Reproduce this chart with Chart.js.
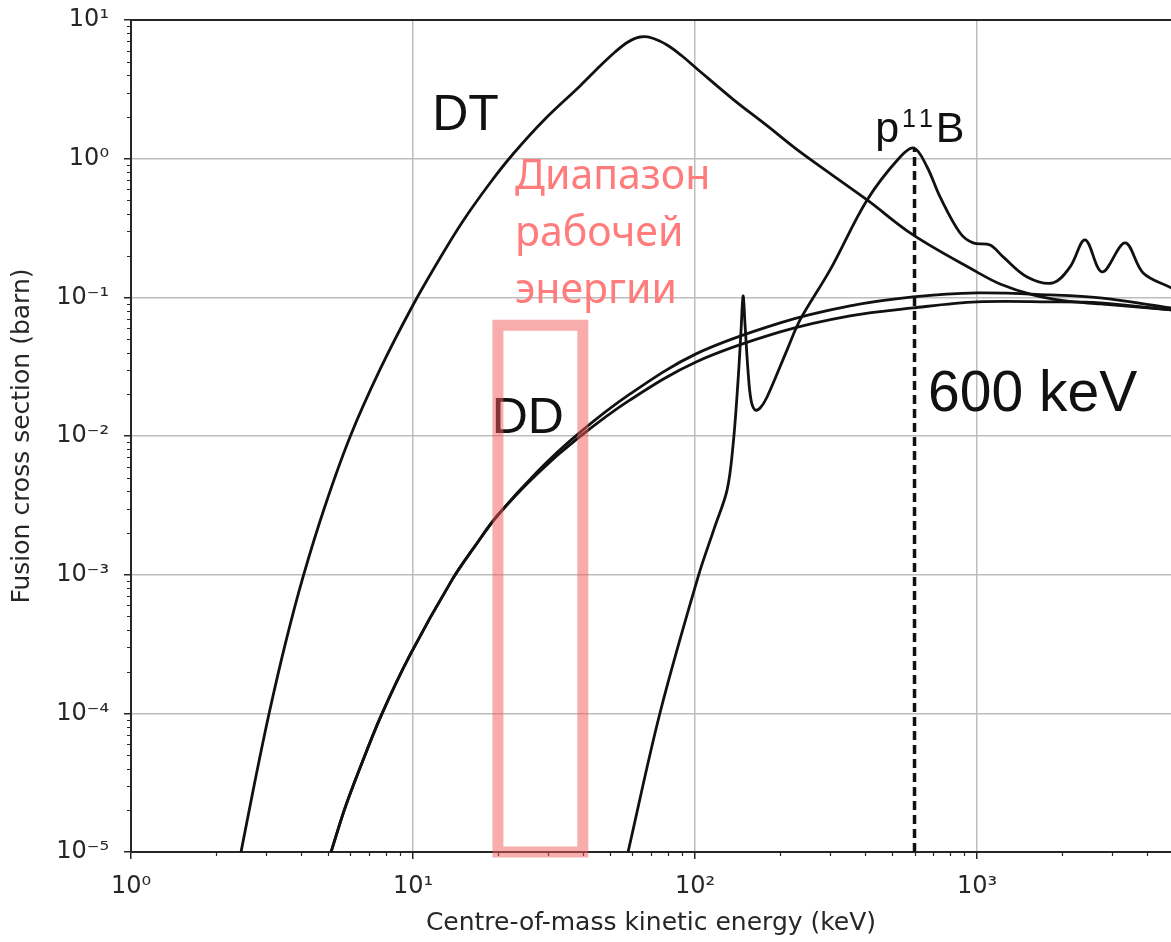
<!DOCTYPE html>
<html>
<head>
<meta charset="utf-8">
<script src="https://cdn.jsdelivr.net/npm/chart.js@4.4.1/dist/chart.umd.min.js"></script>
<style>
html, body { margin: 0; padding: 0; background: #fff; }
#wrap { width: 1171px; height: 942px; }
</style>
</head>
<body>
<div id="wrap"><canvas id="fusion" width="1171" height="942"></canvas></div>
<script>
// energies in keV, cross sections in barn
var dtEnergy = [2.455, 2.753, 3.086, 3.517, 4.074, 4.875, 5.978, 7.638, 10.0, 12.47, 15.04, 18.75, 22.63, 29.38, 39.1, 46.04, 52.04, 57.86, 63.83, 70.39, 79.58, 89.94, 100.8, 136.4, 178.6, 235.7, 407.4, 592.9, 1000, 1206, 1579, 2052, 2731, 4875];
var dtSigma  = [1e-5, 3.26e-5, 9.92e-5, 3.12e-4, 9.64e-4, 3.13e-3, 9.85e-3, 0.0302, 0.0881, 0.1923, 0.3555, 0.668, 1.081, 1.933, 3.344, 4.66, 5.88, 6.94, 7.54, 7.42, 6.6, 5.5, 4.51, 2.68, 1.75, 1.118, 0.504, 0.282, 0.152, 0.1249, 0.1041, 0.0942, 0.0897, 0.0811];

var ddEnergy  = [5.12, 5.74, 6.49, 7.7, 9.76, 13.75, 16.59, 19.86, 27.53, 38.15, 58.84, 100.8, 200.3, 354.4, 593, 1000, 1815, 2731, 4875];
var ddTpSigma = [1e-5, 2.08e-5, 4.05e-5, 9.59e-5, 2.64e-4, 9.17e-4, 1.61e-3, 2.65e-3, 5.51e-3, 0.0102, 0.0201, 0.0391, 0.0654, 0.0867, 0.1007, 0.1076, 0.1041, 0.099, 0.0839];
var ddHnSigma = [1e-5, 2.08e-5, 4.05e-5, 9.59e-5, 2.64e-4, 9.17e-4, 1.61e-3, 2.65e-3, 5.33e-3, 9.53e-3, 0.0182, 0.0342, 0.0563, 0.0735, 0.0839, 0.0927, 0.0927, 0.0911, 0.0811];

var pbEnergy = [57.86, 75.13, 102.5, 116.8, 129.9, 136.4, 142.1, 145.6, 148, 150.4, 154.2, 157.9, 163.2, 170.1, 180, 212, 235.7, 301.1, 407.4, 533.3, 597.9, 664.8, 739.2, 870.4, 967.8, 1112, 1237, 1504, 1860, 2137, 2416, 2775, 3348, 3879, 4875];
var pbSigma  = [1e-5, 1.01e-4, 9.64e-4, 2.14e-3, 4.09e-3, 8.63e-3, 0.0254, 0.0582, 0.1023, 0.0632, 0.029, 0.0182, 0.0154, 0.0159, 0.0191, 0.0418, 0.0687, 0.1576, 0.504, 1.029, 1.194, 0.871, 0.53, 0.291, 0.247, 0.2385, 0.1956, 0.1403, 0.127, 0.1657, 0.2594, 0.1524, 0.2467, 0.1499, 0.1169];

var markEnergy = 600;          // dotted line
var markTop = 1.19;
var rangeEnergy = [20, 40];    // working range box
var rangeTop = 0.063;

var xMin = 1, xMax = 4870, yMin = 1e-5, yMax = 10;
var xTickValues = [1, 10, 100, 1000];
var xTickLabels = ['10⁰', '10¹', '10²', '10³'];
var yTickValues = [1e-5, 1e-4, 1e-3, 1e-2, 1e-1, 1, 10];
var yTickLabels = ['10⁻⁵', '10⁻⁴', '10⁻³', '10⁻²', '10⁻¹', '10⁰', '10¹'];

var noteText   = ['DT', 'DD', '600 keV'];
var noteEnergy = [11.7, 19.0, 670];
var noteSigma  = [1.61, 0.0105, 0.0152];
var rangeText = ['Диапазон', 'рабочей', 'энергии'];

function pts(xs, ys) {
	return xs.map(function (v, i) { return {x: v, y: ys[i]}; });
}

var ink = '#262626';

var notes = {
	id: 'notes',
	beforeDatasetsDraw: function (chart) {
		var ctx = chart.ctx, xs = chart.scales.x, ys = chart.scales.y, a = chart.chartArea;
		ctx.save();
		// minor ticks
		ctx.strokeStyle = ink;
		ctx.lineWidth = 1.2;
		ctx.beginPath();
		xTickValues.forEach(function (d) {
			for (var m = 2; m < 10; m++) {
				if (m * d > xMax) return;
				var px = Math.round(xs.getPixelForValue(m * d)) + 0.5;
				ctx.moveTo(px, a.bottom); ctx.lineTo(px, a.bottom + 4);
			}
		});
		yTickValues.forEach(function (d) {
			for (var m = 2; m < 10; m++) {
				if (m * d > yMax) return;
				var py = Math.round(ys.getPixelForValue(m * d)) + 0.5;
				ctx.moveTo(a.left, py); ctx.lineTo(a.left - 4, py);
			}
		});
		ctx.stroke();

		// curve labels
		ctx.fillStyle = '#111';
		ctx.textAlign = 'left';
		ctx.textBaseline = 'alphabetic';
		var sizes = [50, 50, 57];
		noteText.forEach(function (t, i) {
			ctx.font = sizes[i] + 'px "Liberation Sans"';
			ctx.fillText(t, xs.getPixelForValue(noteEnergy[i]), ys.getPixelForValue(noteSigma[i]));
		});
		// p11B with raised mass number
		var px = xs.getPixelForValue(435), py = ys.getPixelForValue(1.32);
		ctx.font = '43px "Liberation Sans"';
		ctx.fillText('p', px, py);
		px += ctx.measureText('p').width + 3;
		ctx.font = '25px "Liberation Sans"';
		ctx.fillText('1', px, py - 15);
		px += ctx.measureText('1').width + 3;
		ctx.fillText('1', px, py - 15);
		px += ctx.measureText('1').width + 3;
		ctx.font = '43px "Liberation Sans"';
		ctx.fillText('B', px, py);

		// working range caption
		ctx.fillStyle = '#ff7c7c';
		ctx.font = '41px "Noto Sans"';
		var rx = xs.getPixelForValue(23), ry = ys.getPixelForValue(0.6);
		rangeText.forEach(function (t, i) { ctx.fillText(t, rx, ry + i * 57); });
		ctx.restore();
	},
	afterDatasetsDraw: function (chart) {
		var ctx = chart.ctx, a = chart.chartArea;
		ctx.save();
		ctx.strokeStyle = ink;
		ctx.lineWidth = 2;
		ctx.beginPath();
		ctx.moveTo(a.left, a.top); ctx.lineTo(a.right, a.top);
		ctx.stroke();
		ctx.restore();
	}
};

function curve(data) {
	return {
		data: data, showLine: true, borderColor: '#111', borderWidth: 2.8,
		pointRadius: 0, tension: 0.35, order: 1
	};
}

new Chart(document.getElementById('fusion'), {
	type: 'scatter',
	data: {
		datasets: [
			{
				data: pts([rangeEnergy[0], rangeEnergy[0], rangeEnergy[1], rangeEnergy[1], rangeEnergy[0]],
					[yMin, rangeTop, rangeTop, yMin, yMin]),
				showLine: true, borderColor: 'rgba(244,90,90,0.5)', borderWidth: 11,
				borderJoinStyle: 'miter', borderCapStyle: 'square', pointRadius: 0, tension: 0,
				clip: false, order: 0
			},
			curve(pts(dtEnergy, dtSigma)),
			curve(pts(ddEnergy, ddTpSigma)),
			curve(pts(ddEnergy, ddHnSigma)),
			curve(pts(pbEnergy, pbSigma)),
			{
				data: pts([markEnergy, markEnergy], [yMin, markTop]),
				showLine: true, borderColor: '#111', borderWidth: 3.5, borderDash: [9, 5],
				pointRadius: 0, tension: 0, order: 1
			}
		]
	},
	options: {
		responsive: false,
		animation: false,
		devicePixelRatio: 1,
		layout: { padding: { top: 20, right: 0, bottom: 0, left: 0 } },
		plugins: { legend: { display: false }, tooltip: { enabled: false } },
		scales: {
			x: {
				type: 'logarithmic', min: xMin, max: xMax,
				afterBuildTicks: function (s) { s.ticks = xTickValues.map(function (v) { return {value: v}; }); },
				afterFit: function (s) { s.height = 90; },
				ticks: {
					autoSkip: false, maxRotation: 0, padding: 13, color: ink,
					font: { family: 'DejaVu Sans', size: 24 },
					callback: function (v, i) { return xTickLabels[i]; }
				},
				grid: { color: '#bdbdbd', lineWidth: 1.5, tickColor: ink, tickLength: 7, tickWidth: 1.5 },
				border: { display: true, color: ink, width: 2 },
				title: {
					display: true, text: 'Centre-of-mass kinetic energy (keV)', color: ink,
					font: { family: 'DejaVu Sans', size: 25 }, padding: { top: 0, bottom: 4 }
				}
			},
			y: {
				type: 'logarithmic', min: yMin, max: yMax,
				afterBuildTicks: function (s) { s.ticks = yTickValues.map(function (v) { return {value: v}; }); },
				afterFit: function (s) { s.width = 131; s.paddingTop = 0; s.paddingBottom = 0; },
				ticks: {
					autoSkip: false, padding: 15, color: ink,
					font: { family: 'DejaVu Sans', size: 24 },
					callback: function (v, i) { return yTickLabels[i]; }
				},
				grid: { color: '#bdbdbd', lineWidth: 1.5, tickColor: ink, tickLength: 7, tickWidth: 1.5 },
				border: { display: true, color: ink, width: 2 },
				title: {
					display: true, text: 'Fusion cross section (barn)', color: ink,
					font: { family: 'DejaVu Sans', size: 25 }, padding: { top: 7, bottom: 0 }
				}
			}
		}
	},
	plugins: [notes]
});
</script>
</body>
</html>
